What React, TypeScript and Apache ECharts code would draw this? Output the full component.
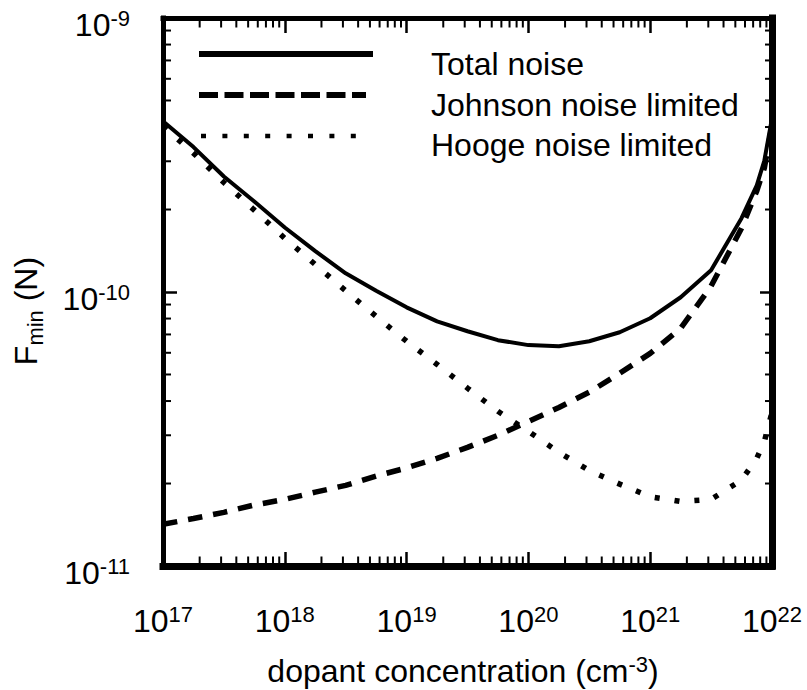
import React, { useEffect, useRef } from "react";
import * as echarts from "echarts";

// Dopant concentration (cm^-3)
const concentration = [
  1e17, 1.78e17, 3.16e17, 5.62e17, 1e18, 1.78e18, 3.16e18, 5.62e18, 1e19, 1.78e19,
  3.16e19, 5.62e19, 1e20, 1.78e20, 3.16e20, 5.62e20, 1e21, 1.78e21, 3.16e21, 5.62e21,
  7.5e21, 8.66e21, 1e22,
];

// Minimum detectable force (N)
const totalNoise = [
  4.2e-10, 3.38e-10, 2.64e-10, 2.14e-10, 1.72e-10, 1.41e-10, 1.17e-10, 1.01e-10, 8.79e-11, 7.81e-11,
  7.19e-11, 6.67e-11, 6.4e-11, 6.34e-11, 6.61e-11, 7.13e-11, 8.02e-11, 9.57e-11, 1.2e-10, 1.86e-10,
  2.45e-10, 3.02e-10, 4.31e-10,
];
const johnsonLimited = [
  1.42e-11, 1.49e-11, 1.57e-11, 1.67e-11, 1.75e-11, 1.86e-11, 1.97e-11, 2.13e-11, 2.28e-11, 2.47e-11,
  2.71e-11, 3.0e-11, 3.37e-11, 3.79e-11, 4.31e-11, 5.05e-11, 5.97e-11, 7.37e-11, 1.05e-10, 1.71e-10,
  2.34e-10, 2.84e-10, 4.06e-10,
];
const hoogeLimited = [
  4.03e-10, 3.21e-10, 2.51e-10, 1.99e-10, 1.57e-10, 1.26e-10, 1.01e-10, 8.15e-11, 6.61e-11, 5.44e-11,
  4.46e-11, 3.67e-11, 3.1e-11, 2.6e-11, 2.23e-11, 1.99e-11, 1.79e-11, 1.72e-11, 1.75e-11, 2.06e-11,
  2.47e-11, 2.85e-11, 3.64e-11,
];

const seriesNames = ["Total noise", "Johnson noise limited", "Hooge noise limited"];

// Axis ranges and minor tick positions (log scale)
const xRange = [1e17, 1e22];
const yRange = [1e-11, 1e-9];
const xDecades = [1e17, 1e18, 1e19, 1e20, 1e21];
const yDecades = [1e-11, 1e-10];
const minorMultipliers = [2, 3, 4, 5, 6, 7, 8, 9];

const FONT = "'Liberation Sans', Arial, Helvetica, sans-serif";

const pair = (xs: number[], ys: number[]) => xs.map((x, i) => [x, ys[i]]);

export default function App() {
  const ref = useRef<HTMLDivElement>(null);

  useEffect(() => {
    if (!ref.current) return;
    const chart = echarts.init(ref.current, undefined, { renderer: "svg" });

    // minor ticks: [x, y, side]  side 0 bottom, 1 top, 2 left, 3 right
    const minorTicks: number[][] = [];
    xDecades.forEach((d) =>
      minorMultipliers.forEach((m) => {
        minorTicks.push([d * m, yRange[0], 0]);
        minorTicks.push([d * m, yRange[1], 1]);
      })
    );
    yDecades.forEach((d) =>
      minorMultipliers.forEach((m) => {
        minorTicks.push([xRange[0], d * m, 2]);
        minorTicks.push([xRange[1], d * m, 3]);
      })
    );

    const expLabel = (v: number) => `{b|10}{s|${Math.round(Math.log10(v))}}`;
    const labelRich = {
      b: { fontSize: 32, fontFamily: FONT, color: "#000", lineHeight: 34, verticalAlign: "bottom" },
      s: { fontSize: 22, fontFamily: FONT, color: "#000", lineHeight: 32, verticalAlign: "top" },
    };

    const common = { type: "log", logBase: 10, splitLine: { show: false }, minorTick: { show: false } };

    const curve = (name: string, ys: number[], lineStyle: any) => ({
      name,
      type: "line",
      data: pair(concentration, ys),
      showSymbol: false,
      symbol: "none",
      lineStyle: { color: "#000", ...lineStyle },
      z: 3,
    });

    chart.setOption({
      animation: false,
      backgroundColor: "#fff",
      grid: { left: 163, right: 35, top: 18, bottom: 124, containLabel: false },
      xAxis: [
        {
          ...common,
          min: xRange[0],
          max: xRange[1],
          splitNumber: 5,
          position: "bottom",
          axisLine: { lineStyle: { color: "#000", width: 7, cap: "square" } },
          axisTick: { inside: true, length: 14, lineStyle: { color: "#000", width: 2.5 } },
          axisLabel: {
            margin: 37,
            formatter: expLabel,
            rich: labelRich,
            showMinLabel: true,
            showMaxLabel: true,
          },
        },
        {
          ...common,
          min: xRange[0],
          max: xRange[1],
          splitNumber: 5,
          position: "top",
          axisLine: { lineStyle: { color: "#000", width: 5, cap: "square" } },
          axisTick: { inside: true, length: 15, lineStyle: { color: "#000", width: 2.5 } },
          axisLabel: { show: false },
        },
      ],
      yAxis: [
        {
          ...common,
          min: yRange[0],
          max: yRange[1],
          splitNumber: 2,
          position: "left",
          axisLine: { lineStyle: { color: "#000", width: 5, cap: "square" } },
          axisTick: { inside: true, length: 14, lineStyle: { color: "#000", width: 2.5 } },
          axisLabel: {
            margin: 33,
            formatter: expLabel,
            rich: labelRich,
            padding: [12, 0, 0, 0],
            showMinLabel: true,
            showMaxLabel: true,
          },
        },
        {
          ...common,
          min: yRange[0],
          max: yRange[1],
          splitNumber: 2,
          position: "right",
          axisLine: { lineStyle: { color: "#000", width: 7, cap: "square" } },
          axisTick: { inside: true, length: 12, lineStyle: { color: "#000", width: 2.5 } },
          axisLabel: { show: false },
        },
      ],
      series: [
        curve(seriesNames[0], totalNoise, { width: 4 }),
        curve(seriesNames[1], johnsonLimited, { width: 5.5, type: [14.5, 11] }),
        curve(seriesNames[2], hoogeLimited, { width: 5.5, type: [5, 15] }),
        {
          type: "custom",
          silent: true,
          data: minorTicks,
          z: 5,
          renderItem: (_params: any, api: any) => {
            const p = api.coord([api.value(0), api.value(1)]);
            const side = api.value(2);
            const len = side === 3 ? 7 : side === 1 ? 9.5 : side === 0 ? 9.5 : 8;
            let dx = 0,
              dy = 0;
            if (side === 0) dy = -len;
            if (side === 1) dy = len;
            if (side === 2) dx = len;
            if (side === 3) dx = -len;
            return {
              type: "line",
              shape: { x1: p[0], y1: p[1], x2: p[0] + dx, y2: p[1] + dy },
              style: { stroke: "#000", lineWidth: 2 },
            };
          },
        },
      ],
      graphic: [
        // legend
        { type: "line", shape: { x1: 199, y1: 54, x2: 373, y2: 54 }, style: { stroke: "#000", lineWidth: 6 } },
        {
          type: "line",
          shape: { x1: 199, y1: 95, x2: 366, y2: 95 },
          style: { stroke: "#000", lineWidth: 6, lineDash: [19, 6.5] },
        },
        {
          type: "line",
          shape: { x1: 201, y1: 136, x2: 360, y2: 136 },
          style: { stroke: "#000", lineWidth: 4.5, lineDash: [5, 16.4] },
        },
        ...seriesNames.map((name, i) => ({
          type: "text",
          x: 431,
          y: 64 + i * 40.5,
          style: {
            text: name,
            font: `32px ${FONT}`,
            fill: "#000",
            verticalAlign: "middle",
            align: "left",
          },
        })),
        // axis titles
        {
          type: "text",
          x: 463,
          y: 670,
          style: {
            text: "{a|dopant concentration (cm}{s|-3}{a|)}",
            rich: {
              a: { fontSize: 32, fontFamily: FONT, color: "#000", lineHeight: 34, verticalAlign: "bottom" },
              s: { fontSize: 22, fontFamily: FONT, color: "#000", lineHeight: 32, verticalAlign: "top" },
            },
            align: "center",
            verticalAlign: "middle",
          },
        },
        {
          type: "text",
          x: 28,
          y: 311,
          rotation: Math.PI / 2,
          style: {
            text: "{a|F}{b|min}{a| (N)}",
            rich: {
              a: { fontSize: 32, fontFamily: FONT, color: "#000", lineHeight: 36, verticalAlign: "top" },
              b: { fontSize: 22, fontFamily: FONT, color: "#000", lineHeight: 22, verticalAlign: "bottom" },
            },
            align: "center",
            verticalAlign: "middle",
          },
        },
      ],
    });

    return () => chart.dispose();
  }, []);

  return <div ref={ref} style={{ position: "absolute", left: 0, top: 0, width: 807, height: 690 }} />;
}
